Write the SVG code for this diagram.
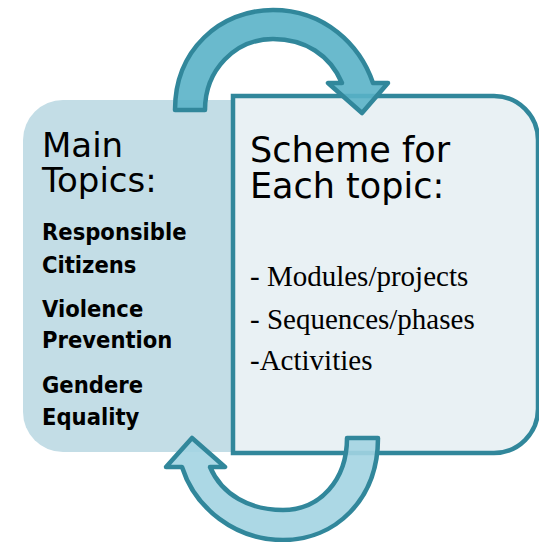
<svg xmlns="http://www.w3.org/2000/svg" width="539" height="542" viewBox="0 0 539 542">
<style>
.h{font-family:"DejaVu Sans",Verdana,sans-serif;font-size:34px;fill:#000}
.h2{font-family:"DejaVu Sans",Verdana,sans-serif;font-size:35px;fill:#000}
.b{font-family:"DejaVu Sans Condensed","DejaVu Sans",sans-serif;font-stretch:condensed;font-weight:bold;font-size:23.5px;fill:#000}
.s{font-family:"Liberation Serif","Times New Roman",serif;font-size:29px;fill:#000}
.arr{stroke:#31879b;stroke-width:4.5;stroke-linejoin:round}
</style>
<rect width="539" height="542" fill="#fff"/>
<g id="main-topics">
<path d="M63,100 H234 V452 H63 A40,40 0 0 1 23,412 V140 A40,40 0 0 1 63,100 Z" fill="#c3dde6"/>
<text class="h" x="42" y="157">Main</text>
<text class="h" x="42" y="192">Topics:</text>
<text class="b" x="42" y="240">Responsible</text>
<text class="b" x="42" y="273">Citizens</text>
<text class="b" x="42" y="317">Violence</text>
<text class="b" x="42" y="348">Prevention</text>
<text class="b" x="42" y="393">Gendere</text>
<text class="b" x="42" y="425">Equality</text>
</g>
<g id="scheme">
<path d="M233,96 H494 A44,44 0 0 1 538,140 V409 A44,44 0 0 1 494,453 H233 Z" fill="#e9f1f4" stroke="#31879b" stroke-width="4.5"/>
<text class="h2" x="250" y="162">Scheme for</text>
<text class="h2" x="250" y="198">Each topic:</text>
<text class="s" x="250" y="286">- Modules/projects</text>
<text class="s" x="250" y="329">- Sequences/phases</text>
<text class="s" x="250" y="370">-Activities</text>
</g>
<g id="connectors">
<path class="arr" fill="#5ab2c8" fill-opacity="0.9" d="M175,110 C175,50 220,10 273,10 C325,10 360,45 373,83 L388,83 L362,113 L328,83 L342,83 C330,55 305,39 273,39 C235,39 205,70 205,110 Z"/>
<path class="arr" fill="#a3d4e2" fill-opacity="0.9" d="M378,438 C378,500 335,540 283,540 C235,540 195,508 182,467 L166,467 L192,438 L225,467 L210,467 C222,495 250,510 283,510 C320,510 347,480 347,438 Z"/>
</g>
</svg>
